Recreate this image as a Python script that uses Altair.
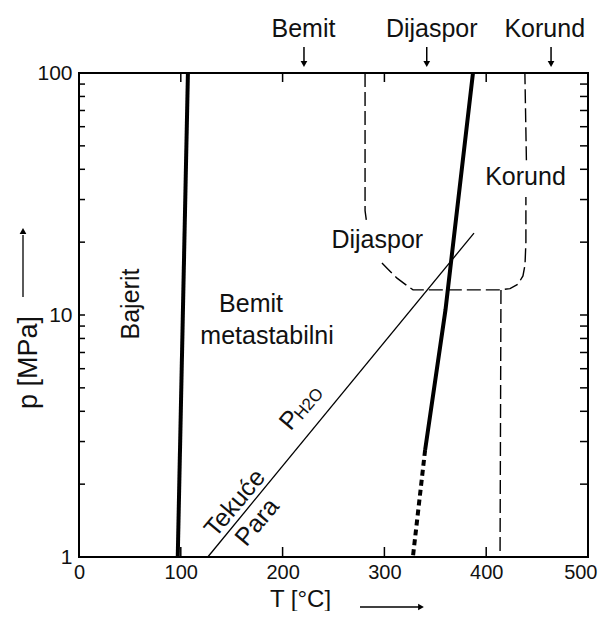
import altair as alt
import pandas as pd

FONT = "Liberation Sans"
W, H = 509, 484

# ---------------- axis values ----------------
x_tick_values = [0, 100, 200, 300, 400, 500]
x_inner_ticks = [100, 200, 300, 400]
y_tick_values = [1, 10, 100]
y_minor_ticks = [2, 3, 4, 5, 6, 7, 8, 9, 10, 20, 30, 40, 50, 60, 70, 80, 90]

# ---------------- phase boundaries (T in degC, p in MPa) ----------------
bajerit_T = [97, 107]
bajerit_p = [1, 100]

dijaspor_T = [387, 360, 340]
dijaspor_p = [100, 10.5, 2.77]
dijaspor_dot_T = [340, 328]
dijaspor_dot_p = [2.77, 1]

water_T = [126.5, 388]
water_p = [1, 21.8]

# metastable (dashed) boundaries, split into segments
dash_seg = [0, 0, 0,
            1, 1, 1, 1, 1, 1, 1, 1, 1, 1, 1, 1,
            2, 2,
            3, 3]
dash_T = [281, 281, 282.5,
          297.6, 305.5, 312.4, 320.2, 328.1, 413.6, 423.4, 431.2, 436.1, 438.1, 439, 439,
          439.5, 438,
          414.5, 413.6]
dash_p = [100, 27, 24.2,
          16.4, 15.17, 14.2, 13.42, 12.7, 12.7, 12.85, 13.4, 14.5, 16.1, 20, 30.7,
          43.6, 100,
          12.7, 1]

# ---------------- labels ----------------
region_text = ["Bajerit", "Bemit", "metastabilni", "Dijaspor", "Korund", "Tekuće", "Para"]
region_T = [51, 169, 184.7, 293, 438.6, 153, 175]
region_p = [11.1, 11.1, 8.2, 20.4, 37, 1.67, 1.395]
region_angle = [270, 0, 0, 0, 0, 310, 310]

sub_text = ["P", "H2O"]
sub_T = [207, 226]
sub_p = [3.68, 4.29]
sub_size = [25, 17]

top_text = ["Bemit", "Dijaspor", "Korund"]
top_T = [220.5, 346.5, 457.5]
top_arrow_T = [221, 341.6, 463.7]

# ---------------- tables ----------------
def line_df(T, p):
    return pd.DataFrame({"T": T, "p": p, "i": list(range(len(T)))})

xs = alt.Scale(domain=[0, 500], nice=False, zero=False)
ys = alt.Scale(type="log", domain=[1, 100], nice=False)

x_axis = alt.Axis(
    values=x_tick_values, grid=False, ticks=False, domain=False,
    labelFontSize=20, labelColor="#111", labelPadding=5,
    labelAlign=alt.ConditionalAxisLabelAlign(
        condition={"test": "datum.value == 500", "value": "right"}, value="center"),
    labelOffset=alt.ConditionalAxisNumber(
        condition={"test": "datum.value == 500", "value": 9}, value=0),
    title="T [°C]", titleFontSize=24, titleFontWeight="normal", titleColor="#111",
    titleX=221, titleY=49, titleAlign="center", titleBaseline="alphabetic",
)
y_axis = alt.Axis(
    values=y_tick_values, grid=False, ticks=False, domain=False,
    labelFontSize=21, labelColor="#111", labelPadding=7, format="d",
    title="p [MPa]", titleFontSize=27, titleFontWeight="normal", titleColor="#111",
    titleAngle=270, titleX=-51, titleY=289, titleAlign="center", titleBaseline="middle",
)

X = alt.X("T:Q", scale=xs, axis=x_axis)
Y = alt.Y("p:Q", scale=ys, axis=y_axis)
Xn = alt.X("T:Q", scale=xs)
Yn = alt.Y("p:Q", scale=ys)

bajerit = alt.Chart(line_df(bajerit_T, bajerit_p)).mark_line(
    color="black", strokeWidth=4).encode(x=X, y=Y, order="i:Q")

dijaspor = alt.Chart(line_df(dijaspor_T, dijaspor_p)).mark_line(
    color="black", strokeWidth=4).encode(x=Xn, y=Yn, order="i:Q")

dijaspor_dot = alt.Chart(line_df(dijaspor_dot_T, dijaspor_dot_p)).mark_line(
    color="black", strokeWidth=4, strokeDash=[6, 4]).encode(x=Xn, y=Yn, order="i:Q")

water = alt.Chart(line_df(water_T, water_p)).mark_line(
    color="black", strokeWidth=1.3).encode(x=Xn, y=Yn, order="i:Q")

dash_df = pd.DataFrame({"T": dash_T, "p": dash_p, "seg": dash_seg,
                        "i": list(range(len(dash_T)))})
dashed = alt.Chart(dash_df).mark_line(
    color="black", strokeWidth=1.4, strokeDash=[14, 5]).encode(
    x=Xn, y=Yn, detail="seg:N", order="i:Q")

# inner ticks
ytick_df = pd.DataFrame({"p": y_minor_ticks})
left_ticks = alt.Chart(ytick_df).mark_rule(color="black", strokeWidth=1.5).encode(
    y=Yn, x=alt.value(0), x2=alt.value(6))
right_ticks = alt.Chart(ytick_df).mark_rule(color="black", strokeWidth=1.5).encode(
    y=Yn, x=alt.value(W), x2=alt.value(W - 8))
xtick_df = pd.DataFrame({"T": x_inner_ticks})
bottom_ticks = alt.Chart(xtick_df).mark_rule(color="black", strokeWidth=1.5).encode(
    x=Xn, y=alt.value(H), y2=alt.value(H - 10))
top_ticks = alt.Chart(xtick_df).mark_rule(color="black", strokeWidth=1.5).encode(
    x=Xn, y=alt.value(0), y2=alt.value(9))

# region labels
region_df = pd.DataFrame({"t": region_text, "T": region_T, "p": region_p, "a": region_angle})
regions = alt.Chart(region_df).mark_text(
    fontSize=25, color="#111", baseline="middle", align="center").encode(
    x=Xn, y=Yn, text="t:N", angle=alt.Angle("a:Q", scale=None))

sub_df = pd.DataFrame({"t": sub_text, "T": sub_T, "p": sub_p, "s": sub_size})
subs = alt.Chart(sub_df).mark_text(
    color="#111", baseline="middle", align="center", angle=310).encode(
    x=Xn, y=Yn, text="t:N", size=alt.Size("s:Q", scale=None, legend=None))

# top labels and arrows
top_df = pd.DataFrame({"t": top_text, "T": top_T})
top_labels = alt.Chart(top_df).mark_text(
    fontSize=25, color="#111", baseline="alphabetic", align="center").encode(
    x=Xn, y=alt.value(-36), text="t:N")
arrow_df = pd.DataFrame({"T": top_arrow_T})
top_arrow_shaft = alt.Chart(arrow_df).mark_rule(color="black", strokeWidth=1.5).encode(
    x=Xn, y=alt.value(-26), y2=alt.value(-10))
top_arrow_head = alt.Chart(arrow_df).mark_point(
    shape="triangle-down", filled=True, color="black", size=45, opacity=1).encode(
    x=Xn, y=alt.value(-9))

# axis-title arrows
one = pd.DataFrame({"k": [0]})
x_arrow_shaft = alt.Chart(one).mark_rule(color="black", strokeWidth=1.3).encode(
    x=alt.value(281), x2=alt.value(340), y=alt.value(H + 50))
x_arrow_head = alt.Chart(one).mark_point(
    shape="triangle-right", filled=True, color="black", size=45, opacity=1).encode(
    x=alt.value(342), y=alt.value(H + 50))
y_arrow_shaft = alt.Chart(one).mark_rule(color="black", strokeWidth=1.3).encode(
    x=alt.value(-56), y=alt.value(224), y2=alt.value(162))
y_arrow_head = alt.Chart(one).mark_point(
    shape="triangle-up", filled=True, color="black", size=45, opacity=1).encode(
    x=alt.value(-56), y=alt.value(158))

chart = alt.layer(
    bajerit, dijaspor, dijaspor_dot, water, dashed,
    left_ticks, right_ticks, bottom_ticks, top_ticks,
    regions, subs, top_labels, top_arrow_shaft, top_arrow_head,
    x_arrow_shaft, x_arrow_head, y_arrow_shaft, y_arrow_head,
).properties(
    width=W, height=H, autosize="none",
    padding={"left": 71, "top": 65, "right": 10, "bottom": 54},
    background="white",
).configure(font=FONT).configure_view(stroke="black", strokeWidth=2)

chart.save("out.html", embed_options={"renderer": "svg", "actions": False})
